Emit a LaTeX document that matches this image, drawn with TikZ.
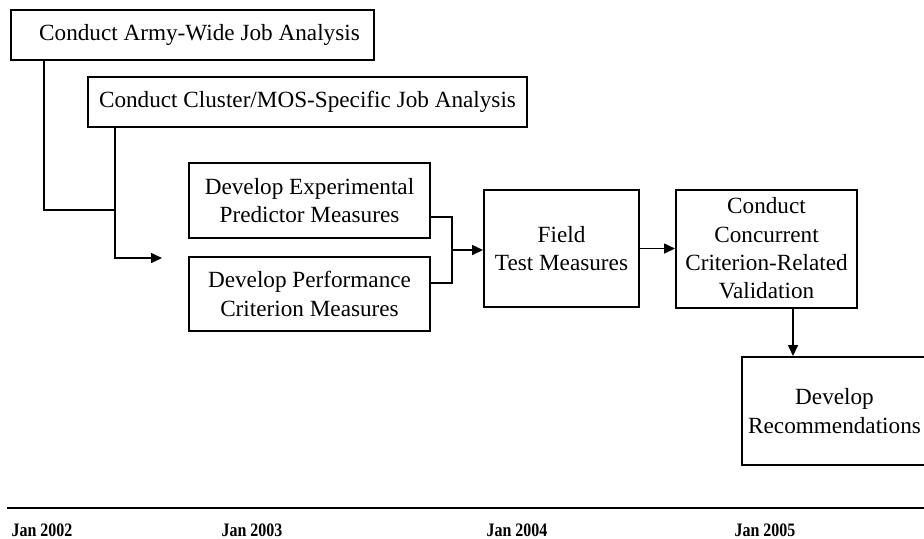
\documentclass[tikz,border=0pt]{standalone}
\usepackage{fontspec}
\setmainfont{Liberation Serif}
\usetikzlibrary{arrows.meta}
\newcommand{\narrow}[1]{\scalebox{0.84}[1]{#1}}

\begin{document}
\begin{tikzpicture}
[x=0.5pt,y=-0.5pt]
\tikzset{box/.style={draw,line width=1pt,align=center,inner sep=0pt,font=\fontsize{11.6}{14.2}\selectfont}}
\tikzset{conn/.style={line width=0.8pt}}
\tikzset{arr/.style={conn,-{Triangle[length=5.5pt,width=5pt]}}}
\tikzset{yr/.style={font=\bfseries\fontsize{9.5}{10}\selectfont,inner sep=0pt}}
\useasboundingbox (0,0) rectangle (924,538);
\node [box,minimum width=181.5pt,minimum height=25pt] (army) at (192.5,35) {\hspace*{7pt}Conduct Army-Wide Job Analysis};
\node [box,minimum width=219.5pt,minimum height=25pt] (cluster) at (307.5,101.5) {Conduct Cluster/MOS-Specific Job Analysis};
\node [box,minimum width=120.5pt,minimum height=37.5pt] (exper) at (309.5,200.5) {Develop Experimental\\Predictor Measures};
\node [box,minimum width=120.5pt,minimum height=37pt] (perf) at (309.5,294) {Develop Performance\\Criterion Measures};
\node [box,minimum width=77.5pt,minimum height=58.5pt] (field) at (561.5,248.5) {Field\\Test Measures};
\node [box,minimum width=90.5pt,minimum height=59pt] (concur) at (766.5,248.5) {Conduct\\Concurrent\\Criterion-Related\\Validation};
\node [box,minimum width=92.5pt,minimum height=54pt] (recomm) at (834.5,411) {Develop\\Recommendations};
\coordinate (j1) at (116,210);
\coordinate (a1) at (162,258);
\coordinate (j2) at (452,250);

\draw [conn] (army.south west) ++(34,0) |- (j1);
\draw [arr] (cluster.south west) ++(28,0) |- (a1);
\draw [conn] (exper.east) ++(0,16.5) -| (j2);
\draw [conn] (perf.east) ++(0,-11) -| (j2);
\draw [arr] (j2) -- (field.west |- j2);
\draw [arr] (field) -- (concur);
\draw [arr] ([xshift=13.25pt]concur.south) -- ([xshift=13.25pt]concur.south |- recomm.north);

% time line
\coordinate (t0) at (7,508);
\coordinate (t1) at (924,508);
\draw [line width=1.1pt] (t0) -- (t1);
\node [yr] (y2002) at (42,530) {\narrow{Jan 2002}};
\node [yr] (y2003) at (252,530) {\narrow{Jan 2003}};
\node [yr] (y2004) at (517,530) {\narrow{Jan 2004}};
\node [yr] (y2005) at (765,530) {\narrow{Jan 2005}};
\end{tikzpicture}
\end{document}
